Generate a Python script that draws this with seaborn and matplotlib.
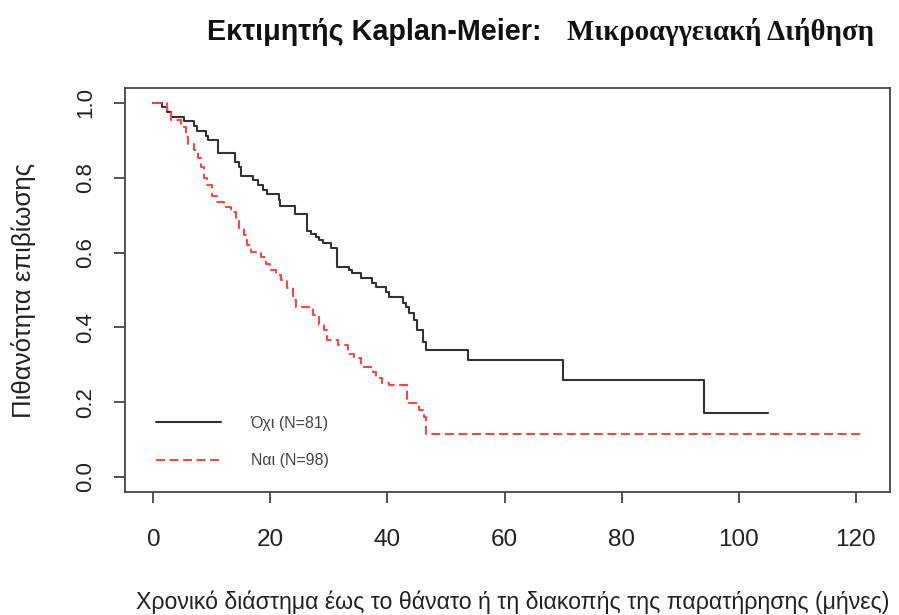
import numpy as np
import pandas as pd
import matplotlib
matplotlib.use("Agg")
import matplotlib.pyplot as plt
import seaborn as sns
from matplotlib.lines import Line2D

# ---- data ----
no_times = [0, 1.5, 2.3, 3.0, 5.3, 6.9, 7.4, 9.0, 9.4, 11.0, 14.0, 14.7, 15.0, 17.0,
            17.8, 18.7, 19.5, 21.4, 21.7, 24.2, 26.3, 26.9, 27.8, 28.3, 28.9, 30.3,
            31.4, 33.4, 34.0, 35.4, 37.4, 38.0, 39.7, 40.3, 42.6, 43.2, 43.7, 44.5,
            45.1, 46.0, 46.5, 53.8, 69.9, 94.1, 105.0]
no_surv = [1.0, 0.988, 0.975, 0.963, 0.951, 0.938, 0.926, 0.913, 0.901, 0.867, 0.842,
           0.830, 0.805, 0.793, 0.781, 0.768, 0.756, 0.740, 0.725, 0.702, 0.658, 0.650,
           0.642, 0.635, 0.625, 0.611, 0.562, 0.553, 0.545, 0.531, 0.518, 0.509, 0.495,
           0.482, 0.465, 0.455, 0.438, 0.420, 0.393, 0.362, 0.340, 0.313, 0.259, 0.172,
           0.172]

yes_times = [0, 2.3, 3.0, 4.7, 5.5, 6.0, 7.0, 7.6, 8.1, 8.7, 9.2, 10.0, 10.8, 12.1,
             13.3, 14.1, 14.7, 15.5, 16.0, 16.7, 18.4, 19.2, 20.0, 20.9, 21.8, 22.8,
             23.8, 24.3, 27.2, 28.3, 29.2, 29.6, 31.5, 33.2, 34.3, 35.4, 37.5, 38.0,
             39.1, 40.3, 43.4, 45.4, 46.2, 46.5, 121.0]
yes_surv = [1.0, 0.98, 0.955, 0.937, 0.91, 0.89, 0.874, 0.853, 0.83, 0.80, 0.78, 0.75,
            0.736, 0.723, 0.709, 0.69, 0.666, 0.647, 0.62, 0.602, 0.589, 0.57, 0.553,
            0.54, 0.527, 0.505, 0.473, 0.455, 0.433, 0.406, 0.393, 0.366, 0.352, 0.33,
            0.317, 0.295, 0.28, 0.264, 0.251, 0.246, 0.198, 0.18, 0.161, 0.115, 0.115]

group_labels = ["Όχι (N=81)", "Ναι (N=98)"]
x_ticks = [0, 20, 40, 60, 80, 100, 120]
y_ticks = [0.0, 0.2, 0.4, 0.6, 0.8, 1.0]

title_part1 = "Εκτιμητής Kaplan-Meier:"
title_part2 = "Μικροαγγειακή Διήθηση"
x_label = "Χρονικό διάστημα έως το θάνατο ή τη διακοπής της παρατήρησης (μήνες)"
y_label = "Πιθανότητα επιβίωσης"

df_no = pd.DataFrame({"t": no_times, "s": no_surv})
df_yes = pd.DataFrame({"t": yes_times, "s": yes_surv})

sns.set_style("ticks")
plt.rcParams["font.family"] = ["Liberation Sans", "DejaVu Sans"]

W, H = 899, 615
fig = plt.figure(figsize=(W / 100, H / 100), dpi=100)
ax = fig.add_axes([125 / W, 1 - 492 / H, (890 - 125) / W, (492 - 88) / H])

black = "#333333"
red = "#ff4444"
sns.lineplot(data=df_no, x="t", y="s", ax=ax, color=black, lw=1.5,
             drawstyle="steps-post", legend=False, estimator=None, sort=False)
sns.lineplot(data=df_yes, x="t", y="s", ax=ax, color=red, lw=1.5,
             drawstyle="steps-post", legend=False, estimator=None, sort=False)
ax.lines[1].set_dashes((4.3, 2.2))

xmax = max(max(no_times), max(yes_times))
ax.set_xlim(-0.04 * xmax, xmax * 1.04)
ax.set_ylim(-0.04, 1.04)
ax.set_xticks(x_ticks)
ax.set_yticks(y_ticks)
ax.set_xticklabels([str(v) for v in x_ticks])
ax.set_yticklabels([f"{v:.1f}" for v in y_ticks], rotation=90, va="center")

for sp in ax.spines.values():
    sp.set_visible(True)
    sp.set_color("#444444")
    sp.set_linewidth(1.3)
ax.tick_params(axis="both", direction="out", length=8, width=1.3, color="#444444",
               labelcolor="#222222")
ax.tick_params(axis="x", pad=19, labelsize=17.5)
ax.tick_params(axis="y", pad=13, labelsize=16)

ax.set_xlabel(x_label, fontsize=16.7, color="#222222")
ax.set_ylabel(y_label, fontsize=18.5, color="#222222")
ax.xaxis.set_label_coords(0.507, -0.243)
ax.yaxis.set_label_coords(-0.116, 0.5)

handles = [Line2D([], [], color=black, lw=1.5),
           Line2D([], [], color=red, lw=1.5, dashes=(4.3, 2.2))]
leg = ax.legend(handles, group_labels, loc="upper left", bbox_to_anchor=(0.04, 0.188),
                frameon=False, fontsize=11.5, handlelength=4.07, handletextpad=1.9,
                labelspacing=1.4, borderpad=0, borderaxespad=0)
for t in leg.get_texts():
    t.set_color("#444444")

fig.text(207 / W, 1 - 40 / H, title_part1, fontsize=20.7, fontweight="bold",
         family=["Liberation Sans", "DejaVu Sans"], color="#111111", va="baseline")
fig.text(567 / W, 1 - 40 / H, title_part2, fontsize=20.7, fontweight="bold",
         family=["Liberation Serif", "DejaVu Serif"], color="#111111", va="baseline")

fig.savefig("out.png", dpi=100, facecolor="white")
